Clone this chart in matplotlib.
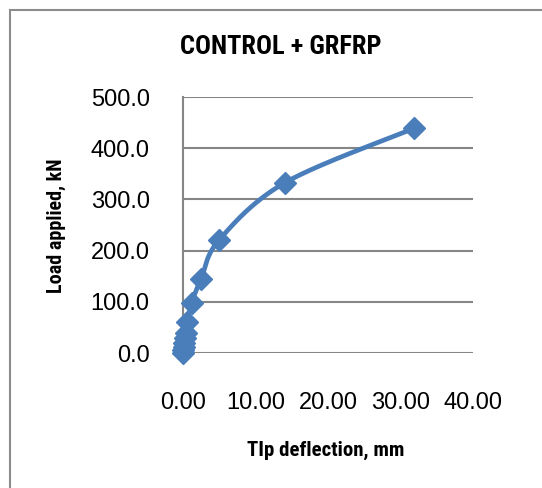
import numpy as np
from matplotlib import pyplot as plt
from matplotlib.patches import Rectangle

# tip deflection (mm) and load applied (kN)
deflection = [0.0, 0.05, 0.1, 0.2, 0.3, 0.4, 0.6, 1.2, 2.5, 5.0, 14.1, 31.9]
load = [0.0, 5.0, 12.0, 20.0, 30.0, 40.0, 60.0, 98.0, 145.0, 221.0, 333.0, 439.0]

x_ticks = [0, 10, 20, 30, 40]
y_ticks = [0, 100, 200, 300, 400, 500]

BLUE = '#4a7ebb'
GRID = '#868686'


def smooth_curve(xs, ys, ax, steps=30):
    # catmull-rom in pixel space, close to excel's smoothed line
    pts = ax.transData.transform(np.column_stack([xs, ys]))
    pts = np.vstack([pts[0], pts, pts[-1]])
    out = []
    for i in range(1, len(pts) - 2):
        p0, p1, p2, p3 = pts[i - 1], pts[i], pts[i + 1], pts[i + 2]
        t = np.linspace(0, 1, steps)[:, None]
        seg = 0.5 * ((2 * p1) + (-p0 + p2) * t
                     + (2 * p0 - 5 * p1 + 4 * p2 - p3) * t ** 2
                     + (-p0 + 3 * p1 - 3 * p2 + p3) * t ** 3)
        out.append(seg)
    out = np.vstack(out)
    return ax.transData.inverted().transform(out)


def main():
    plt.rcParams['font.family'] = ['Liberation Sans', 'DejaVu Sans']
    fig = plt.figure(figsize=(5.42, 4.88), dpi=100)
    ax = fig.add_axes([0.3376, 0.2766, 0.5351, 0.5246])

    ax.set_xlim(0, 40)
    ax.set_ylim(0, 500)
    ax.set_xticks(x_ticks)
    ax.set_yticks(y_ticks)
    ax.set_xticklabels(['%.2f' % v for v in x_ticks])
    ax.set_yticklabels(['%.1f' % v for v in y_ticks])
    ax.tick_params(length=0, labelsize=17, colors='black')
    ax.tick_params(axis='x', pad=28)
    ax.tick_params(axis='y', pad=24)

    for s in ['top', 'right', 'bottom']:
        ax.spines[s].set_visible(False)
    ax.spines['left'].set_color(GRID)
    ax.spines['left'].set_linewidth(1.5)
    ax.yaxis.grid(True, color=GRID, linewidth=1.5)
    ax.set_axisbelow(True)

    curve = smooth_curve(deflection, load, ax)
    ax.plot(curve[:, 0], curve[:, 1], color=BLUE, linewidth=3.4,
            clip_on=False, solid_capstyle='round')
    ax.plot(deflection, load, linestyle='none', marker='D', markersize=11,
            color=BLUE, clip_on=False, zorder=5)

    narrow = ['Roboto Condensed', 'Liberation Sans', 'DejaVu Sans']
    fig.text(0.518, 0.904, 'CONTROL + GRFRP', ha='center', va='center',
             fontsize=19, fontweight='bold', family=narrow)
    fig.text(0.6, 0.076, 'TIp deflection, mm', ha='center', va='center',
             fontsize=15, fontweight='bold', family=narrow)
    fig.text(0.105, 0.537, 'Load applied, kN', ha='center', va='center',
             rotation=90, fontsize=14.5, fontweight='bold', family=narrow)

    fig.patches.append(Rectangle((10 / 542, -0.1), 1.2, 1 - 10 / 488 + 0.1,
                                 transform=fig.transFigure, fill=False,
                                 edgecolor='#8c8c8c', linewidth=1.5))

    fig.savefig('out.png', dpi=100)


if __name__ == "__main__":
    main()
